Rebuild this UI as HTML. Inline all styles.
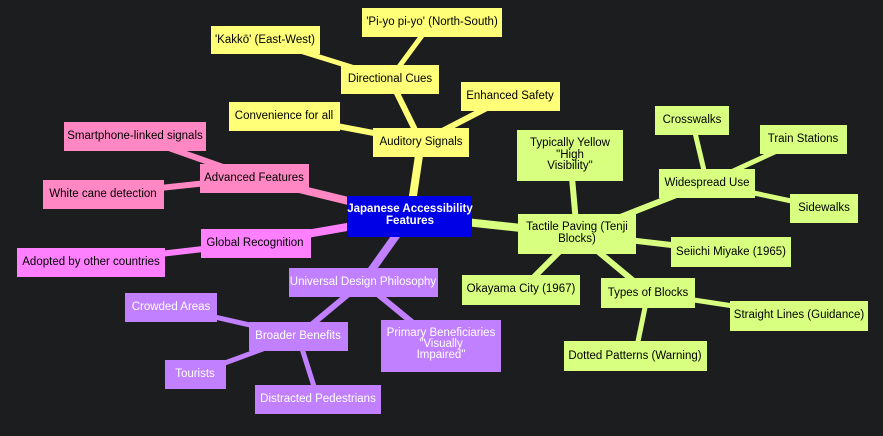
<!DOCTYPE html>
<html><head><meta charset="utf-8"><style>
html,body{margin:0;padding:0;background:#1c1d1f;}
svg{display:block}
text{font-family:"Liberation Sans",sans-serif;font-size:11.5px;text-anchor:middle;dominant-baseline:central}
</style></head><body>
<svg width="883" height="436" viewBox="0 0 883 436">
<rect width="883" height="436" fill="#1c1d1f"/>
<g stroke-linecap="round">
<line x1="410" y1="216" x2="421" y2="142" stroke="#ffff78" stroke-width="8"/>
<line x1="410" y1="216" x2="254" y2="178" stroke="#ff88c4" stroke-width="8"/>
<line x1="410" y1="216" x2="255" y2="243" stroke="#ff80ff" stroke-width="8"/>
<line x1="410" y1="216" x2="363" y2="282" stroke="#c080ff" stroke-width="8"/>
<line x1="410" y1="216" x2="577" y2="234" stroke="#d9ff80" stroke-width="8"/>
<line x1="421" y1="142" x2="390" y2="79" stroke="#ffff78" stroke-width="6"/>
<line x1="421" y1="142" x2="510" y2="96" stroke="#ffff78" stroke-width="6"/>
<line x1="421" y1="142" x2="284" y2="116" stroke="#ffff78" stroke-width="6"/>
<line x1="390" y1="79" x2="265" y2="40" stroke="#ffff78" stroke-width="5"/>
<line x1="390" y1="79" x2="432" y2="22" stroke="#ffff78" stroke-width="5"/>
<line x1="254" y1="178" x2="135" y2="136" stroke="#ff88c4" stroke-width="6"/>
<line x1="254" y1="178" x2="103" y2="194" stroke="#ff88c4" stroke-width="6"/>
<line x1="255" y1="243" x2="91" y2="262" stroke="#ff80ff" stroke-width="6"/>
<line x1="363" y1="282" x2="298" y2="336" stroke="#c080ff" stroke-width="6"/>
<line x1="363" y1="282" x2="441" y2="346" stroke="#c080ff" stroke-width="6"/>
<line x1="298" y1="336" x2="171" y2="307" stroke="#c080ff" stroke-width="5"/>
<line x1="298" y1="336" x2="195" y2="374" stroke="#c080ff" stroke-width="5"/>
<line x1="298" y1="336" x2="318" y2="399" stroke="#c080ff" stroke-width="5"/>
<line x1="577" y1="234" x2="570" y2="155" stroke="#d9ff80" stroke-width="6"/>
<line x1="577" y1="234" x2="707" y2="183" stroke="#d9ff80" stroke-width="6"/>
<line x1="577" y1="234" x2="731" y2="252" stroke="#d9ff80" stroke-width="6"/>
<line x1="577" y1="234" x2="521" y2="290" stroke="#d9ff80" stroke-width="6"/>
<line x1="577" y1="234" x2="648" y2="293" stroke="#d9ff80" stroke-width="6"/>
<line x1="707" y1="183" x2="692" y2="120" stroke="#d9ff80" stroke-width="5"/>
<line x1="707" y1="183" x2="803" y2="139" stroke="#d9ff80" stroke-width="5"/>
<line x1="707" y1="183" x2="824" y2="208" stroke="#d9ff80" stroke-width="5"/>
<line x1="648" y1="293" x2="799" y2="316" stroke="#d9ff80" stroke-width="5"/>
<line x1="648" y1="293" x2="635" y2="356" stroke="#d9ff80" stroke-width="5"/>
</g>
<g>
<rect x="211" y="26" width="109" height="28" fill="#ffff78"/><text x="265" y="40">'Kakkō' (East-West)</text>
<rect x="362" y="8" width="140" height="29" fill="#ffff78"/><text x="432" y="22">'Pi-yo pi-yo' (North-South)</text>
<rect x="341" y="65" width="98" height="29" fill="#ffff78"/><text x="390" y="79">Directional Cues</text>
<rect x="461" y="82" width="99" height="29" fill="#ffff78"/><text x="510" y="96">Enhanced Safety</text>
<rect x="229" y="102" width="111" height="29" fill="#ffff78"/><text x="284" y="116">Convenience for all</text>
<rect x="373" y="128" width="96" height="29" fill="#ffff78"/><text x="421" y="142">Auditory Signals</text>
<rect x="347" y="196" width="125" height="41" fill="#0000e6"/>
<text x="410" y="209" fill="#fff" font-weight="bold">Japanese Accessibility</text>
<text x="410" y="221" fill="#fff" font-weight="bold">Features</text>
<rect x="64" y="122" width="142" height="29" fill="#ff88c4"/><text x="135" y="136">Smartphone-linked signals</text>
<rect x="200" y="164" width="109" height="29" fill="#ff88c4"/><text x="254" y="178">Advanced Features</text>
<rect x="43" y="180" width="121" height="29" fill="#ff88c4"/><text x="103" y="194">White cane detection</text>
<rect x="201" y="229" width="110" height="29" fill="#ff80ff"/><text x="255" y="243">Global Recognition</text>
<rect x="17" y="248" width="148" height="29" fill="#ff80ff"/><text x="91" y="262">Adopted by other countries</text>
<g fill="#fff">
<rect x="289" y="268" width="149" height="29" fill="#c080ff"/><text x="363" y="282">Universal Design Philosophy</text>
<rect x="125" y="293" width="92" height="29" fill="#c080ff"/><text x="171" y="307">Crowded Areas</text>
<rect x="249" y="322" width="99" height="29" fill="#c080ff"/><text x="298" y="336">Broader Benefits</text>
<rect x="381" y="320" width="120" height="52" fill="#c080ff"/><text x="441" y="333">Primary Beneficiaries</text><text x="441" y="344">"Visually</text><text x="441" y="355">Impaired"</text>
<rect x="165" y="360" width="61" height="29" fill="#c080ff"/><text x="195" y="374">Tourists</text>
<rect x="255" y="385" width="126" height="29" fill="#c080ff"/><text x="318" y="399">Distracted Pedestrians</text>
</g>
<rect x="517" y="130" width="106" height="51" fill="#d9ff80"/><text x="570" y="143">Typically Yellow</text><text x="570" y="155">"High</text><text x="570" y="166">Visibility"</text>
<rect x="655" y="106" width="74" height="29" fill="#d9ff80"/><text x="692" y="120">Crosswalks</text>
<rect x="760" y="125" width="87" height="29" fill="#d9ff80"/><text x="803" y="139">Train Stations</text>
<rect x="659" y="169" width="96" height="29" fill="#d9ff80"/><text x="707" y="183">Widespread Use</text>
<rect x="790" y="194" width="68" height="29" fill="#d9ff80"/><text x="824" y="208">Sidewalks</text>
<rect x="518" y="214" width="118" height="40" fill="#d9ff80"/><text x="577" y="227">Tactile Paving (Tenji</text><text x="577" y="239">Blocks)</text>
<rect x="671" y="237" width="120" height="30" fill="#d9ff80"/><text x="731" y="252">Seiichi Miyake (1965)</text>
<rect x="462" y="275" width="118" height="30" fill="#d9ff80"/><text x="521" y="289">Okayama City (1967)</text>
<rect x="601" y="278" width="94" height="30" fill="#d9ff80"/><text x="648" y="293">Types of Blocks</text>
<rect x="730" y="301" width="138" height="30" fill="#d9ff80"/><text x="799" y="315">Straight Lines (Guidance)</text>
<rect x="564" y="341" width="143" height="30" fill="#d9ff80"/><text x="635" y="356">Dotted Patterns (Warning)</text>
</g>
</svg>
</body></html>
